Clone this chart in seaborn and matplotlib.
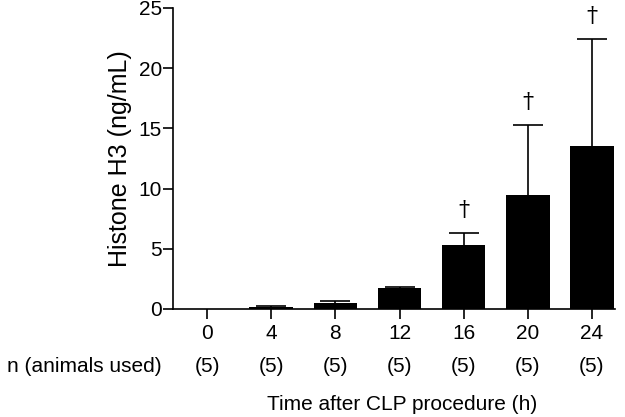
import numpy as np
import pandas as pd
import seaborn as sns
import matplotlib.pyplot as plt

hours = ["0", "4", "8", "12", "16", "20", "24"]
means = [0.0, 0.13, 0.5, 1.75, 5.35, 9.45, 13.5]
sd = [0.0, 0.15, 0.2, 0.1, 0.95, 5.8, 8.9]
n_used = ["(5)", "(5)", "(5)", "(5)", "(5)", "(5)", "(5)"]
signif = [False, False, False, False, True, True, True]

sns.set_style("ticks")
plt.rcParams['font.family'] = ['Liberation Sans', 'DejaVu Sans']
plt.rcParams['text.color'] = 'black'
plt.rcParams['axes.labelcolor'] = 'black'
plt.rcParams['xtick.color'] = 'black'
plt.rcParams['ytick.color'] = 'black'

df = pd.DataFrame({'hours': hours, 'mean': means, 'sd': sd})
fs = 15

fig = plt.figure(figsize=(6.25, 4.17), dpi=100)
ax = fig.add_axes([0.277, 0.259, 0.707, 0.722])

sns.barplot(data=df, x='hours', y='mean', color='black', width=0.68,
            saturation=1, ax=ax, errorbar=None, linewidth=0)
xs = np.arange(len(hours))
has_err = df['sd'] > 0
eb = ax.errorbar(xs[has_err], df['mean'][has_err],
                 yerr=[np.zeros(has_err.sum()), df['sd'][has_err]], fmt='none',
                 ecolor='black', elinewidth=1.2, capsize=10.5, capthick=1.2)
# hide the lower caps (only the upper half is shown)
eb[1][0].set_visible(False)

# significance daggers
for x, m, s, sig in zip(xs, means, sd, signif):
    if sig:
        ax.text(x, m + s + 1.0, "\u2020", ha='center', va='bottom',
                fontsize=16, family='DejaVu Serif', clip_on=False)

ax.set_ylim(0, 25)
ax.set_yticks([0, 5, 10, 15, 20, 25])
ax.set_xlim(-0.53, 6.36)
ax.set_ylabel("Histone H3 (ng/mL)", fontsize=18, labelpad=5)
ax.set_xlabel("")
ax.tick_params(axis='both', labelsize=fs, width=1.2, length=7, color='black')
ax.tick_params(axis='x', pad=4)
ax.tick_params(axis='y', pad=1)

# n row and x label
trans = ax.get_xaxis_transform()
for x, n in zip(xs, n_used):
    ax.text(x, -0.19, n, transform=trans, ha='center', va='center', fontsize=fs)
fig.text(0.259, 1 - 366 / 417, "n (animals used)", ha='right', va='center', fontsize=fs)
fig.text(0.643, 1 - 405 / 417, "Time after CLP procedure (h)", ha='center',
         va='center', fontsize=fs)

for sp in ['top', 'right']:
    ax.spines[sp].set_visible(False)
for sp in ['left', 'bottom']:
    ax.spines[sp].set_linewidth(1.2)
    ax.spines[sp].set_color('black')

fig.savefig("out.png", dpi=100)
